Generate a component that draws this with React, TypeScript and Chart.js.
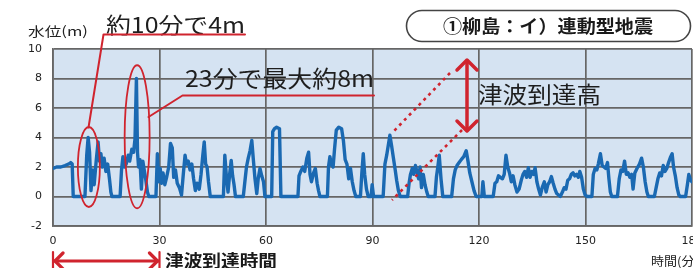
import React, { useEffect, useRef } from "react";
import { Chart, registerables } from "chart.js";

Chart.register(...registerables);

// ---- data (minutes after the earthquake, water level in m) ----
const minutes: number[] = [
  0, 1, 2.2, 3.4, 4.4, 5.0, 5.4, 5.7,
  9.0, 9.5, 9.9, 10.3, 10.7, 11.2, 11.6, 12.2, 12.7, 13.1, 13.5, 13.9, 14.4, 14.9, 15.4, 15.9, 16.3, 16.6,
  18.9, 19.3, 19.7, 20.1, 20.6, 21.2, 21.6, 22.2, 22.7, 23.1, 23.5, 23.8, 24.1, 24.5, 24.9, 25.3, 25.7, 26.1, 26.6, 27.0,
  29.0, 29.4, 29.8, 30.2, 30.6, 31.0, 31.5, 32.0, 32.6, 33.1, 33.6, 34.0, 34.5, 35.0, 35.6, 36.2, 36.7, 37.2, 37.6, 38.1, 38.6, 39.1, 39.6, 40.1, 40.6, 41.2, 41.7, 42.2, 42.6, 43.0, 43.4, 43.8, 44.3,
  48.0, 48.4, 48.9, 49.3, 49.8, 50.2, 50.6, 51.0, 51.4,
  53.6, 54.0, 54.5, 55.0, 55.5, 56.0, 56.4, 56.9, 57.4, 57.8, 58.3, 58.8, 59.3, 59.7,
  61.6, 61.9, 62.4, 63.0, 63.8, 64.2,
  69.0, 69.3, 69.8, 70.4, 70.9, 71.5, 72.0, 72.4, 72.8, 73.4, 73.9, 74.4, 74.8, 75.2,
  77.3, 77.6, 78.0, 78.4, 78.9, 79.3, 79.8, 80.5, 81.3, 81.8, 82.3, 82.8, 83.3, 83.8, 84.3, 84.8, 85.3,
  86.6, 87.0, 87.4, 87.8, 88.3, 88.8, 89.6, 89.9, 90.3,
  93.0, 93.5, 94.0, 94.9, 95.4, 95.9, 96.4, 96.8, 97.3, 97.8,
  99.9, 100.3, 100.7, 101.2, 101.6, 102.1, 102.6, 103.0, 103.4, 103.8, 104.3, 104.8, 105.3, 105.7,
  107.6, 108.0, 108.4, 108.8, 109.3, 109.8,
  112.3, 112.8, 113.3, 113.8, 114.4, 115.0, 115.7, 116.4, 116.9, 117.4, 118.0, 118.6, 119.2,
  120.8, 121.1, 121.5, 124.0, 124.5, 125.0, 125.5, 126.0, 126.6, 127.1, 127.6, 128.1, 128.6, 129.1, 129.6, 130.1, 130.7,
  131.3, 131.9, 132.4, 132.9, 133.4, 133.9, 134.4, 134.9, 135.4, 135.8, 136.3, 136.8, 137.3, 137.8, 138.4, 138.9, 139.4,
  139.9, 140.4, 140.9, 141.4, 141.9, 142.4, 142.9, 143.5, 144.0, 144.5, 145.0, 145.5, 146.0, 146.5, 147.0, 147.5, 148.0,
  148.4, 148.9, 149.4, 149.9, 150.5,
  151.8, 152.2, 152.7, 153.2, 153.6, 154.2, 154.7, 155.2, 155.7, 156.2, 156.6, 157.0, 157.4,
  159.0, 159.5, 160.0, 160.5, 161.0, 161.5, 162.0, 162.5, 163.0, 163.4, 163.9, 164.5, 165.2, 165.8, 166.3, 166.8, 167.3, 167.7,
  169.4, 169.9, 170.4, 170.9, 171.4, 171.9, 172.4, 172.9, 173.4, 174.0, 174.4, 174.8, 175.3, 175.8, 176.3, 176.7,
  178.2, 178.7, 179.1, 179.6, 180,
];

const waterLevel: number[] = [
  1.9, 2.0, 2.0, 2.1, 2.2, 2.3, 2.2, 0,
  0, 2.8, 4.0, 3.0, 0.4, 1.8, 0.8, 2.5, 3.7, 2.4, 2.9, 2.0, 2.6, 1.7, 2.2, 1.2, 0.3, 0,
  0, 1.8, 2.7, 2.0, 2.2, 2.8, 2.4, 3.2, 3.0, 3.9, 8.0, 3.0, 2.0, 2.5, 0.5, 2.4, 1.8, 1.2, 0.3, 0,
  0, 2.9, 1.0, 1.9, 0.9, 1.6, 0.8, 1.3, 2.0, 3.6, 3.3, 1.3, 1.8, 0.9, 0.6, 0.1, 1.5, 2.8, 2.2, 2.4, 1.8, 2.2, 1.2, 0.4, 0.9, 0.5, 1.5, 2.8, 3.7, 2.2, 2.0, 1.0, 0,
  0, 2.8, 1.2, 0.3, 1.6, 2.45, 1.4, 0.8, 0,
  0, 0.9, 2.0, 2.6, 3.1, 3.8, 2.6, 1.2, 0.2, 1.2, 1.9, 1.4, 1.0, 0,
  0, 4.4, 4.6, 4.7, 4.6, 0,
  0, 1.4, 1.7, 2.0, 1.7, 2.6, 3.0, 1.5, 1.0, 1.6, 1.9, 0.9, 0.4, 0,
  0, 2.0, 2.7, 2.2, 2.0, 3.2, 4.5, 4.7, 4.6, 3.8, 2.5, 2.2, 1.2, 1.9, 1.0, 0.4, 0,
  0, 1.6, 2.9, 1.5, 0.5, 0, 0, 0.8, 0,
  0, 2.2, 2.8, 4.15, 3.4, 2.6, 1.8, 1.1, 0.4, 0,
  0, 0.9, 1.5, 1.9, 1.5, 2.1, 1.6, 1.2, 2.0, 0.6, 1.5, 0.8, 0.3, 0,
  0, 1.3, 2.0, 2.8, 1.2, 0,
  0, 1.2, 1.8, 2.1, 2.3, 2.5, 2.7, 3.1, 2.4, 1.6, 1.0, 0.4, 0,
  0, 1.0, 0, 0, 0.9, 1.0, 1.4, 1.3, 1.2, 1.5, 2.8, 2.0, 1.6, 1.0, 1.4, 0.8, 0.3,
  0.5, 1.1, 1.5, 1.7, 1.3, 1.95, 1.3, 1.7, 1.5, 1.95, 1.0, 0.5, 0.1, 0.6, 1.0, 0.3, 0.8,
  1.0, 1.35, 0.9, 0.5, 0.2, 0.1, 0, 0.3, 0.6, 0.5, 1.1, 1.2, 1.5, 1.6, 1.4, 1.5, 1.3,
  1.7, 1.3, 0.5, 0.1, 0,
  0, 1.5, 1.9, 1.8, 2.2, 2.9, 2.1, 2.0, 1.9, 2.3, 1.2, 0.3, 0,
  0, 1.2, 1.8, 1.7, 2.4, 1.5, 1.6, 1.3, 1.5, 0.5, 1.6, 1.9, 2.2, 2.6, 2.0, 1.0, 0.3, 0,
  0, 0.6, 1.2, 1.6, 1.4, 2.1, 1.7, 1.9, 2.3, 2.7, 2.9, 2.0, 1.4, 0.6, 0.1, 0,
  0, 0.8, 1.5, 1.1, 1.0,
];

const xTickValues: number[] = [0, 30, 60, 90, 120, 150, 180];
const yTickValues: number[] = [-2, 0, 2, 4, 6, 8, 10];

const titleText = "①柳島：イ）連動型地震";
const yAxisTitle = "水位(m)";
const xAxisTitle = "時間(分)";
const note10min = "約10分で4m";
const note23min = "23分で最大約8m";
const heightLabel = "津波到達高";
const timeLabel = "津波到達時間";

const PLOT_BG = "#d5e3f2";
const GRID = "#666666";
const LINE = "#1a69b2";
const RED = "#d0242e";
const CJK = '"Noto Sans CJK JP", "Noto Sans", sans-serif';

function fitText(
  ctx: CanvasRenderingContext2D,
  text: string,
  x: number,
  y: number,
  font: string,
  width: number,
  color: string
) {
  ctx.save();
  ctx.font = font;
  ctx.fillStyle = color;
  ctx.textAlign = "left";
  ctx.textBaseline = "middle";
  const w = ctx.measureText(text).width;
  const sx = width / w;
  ctx.translate(x, y);
  ctx.scale(sx, 1);
  ctx.fillText(text, 0, 0);
  ctx.restore();
}

function line(ctx: CanvasRenderingContext2D, pts: number[][], color: string, width: number, dash: number[] = []) {
  ctx.save();
  ctx.strokeStyle = color;
  ctx.lineWidth = width;
  ctx.setLineDash(dash);
  ctx.lineJoin = "round";
  ctx.lineCap = dash.length ? "butt" : "round";
  ctx.beginPath();
  pts.forEach((p, i) => (i === 0 ? ctx.moveTo(p[0], p[1]) : ctx.lineTo(p[0], p[1])));
  ctx.stroke();
  ctx.restore();
}

const decorations = {
  id: "decorations",
  beforeDraw(chart: any) {
    const { ctx, chartArea: a } = chart;
    ctx.save();
    ctx.fillStyle = "#ffffff";
    ctx.fillRect(0, 0, chart.width, chart.height);
    ctx.fillStyle = PLOT_BG;
    ctx.fillRect(a.left, a.top, a.right - a.left, a.bottom - a.top);
    ctx.restore();
  },
  afterDraw(chart: any) {
    const ctx: CanvasRenderingContext2D = chart.ctx;
    const xs = chart.scales.x;
    const ys = chart.scales.y;
    const X = (v: number) => xs.getPixelForValue(v);
    const Y = (v: number) => ys.getPixelForValue(v);

    // axis title
    fitText(ctx, yAxisTitle, 28, 31, `13px ${CJK}`, 60, "#222");

    // title box
    ctx.save();
    ctx.strokeStyle = "#444";
    ctx.lineWidth = 1.6;
    ctx.beginPath();
    (ctx as any).roundRect(406.5, 10.5, 284, 31, 15.5);
    ctx.stroke();
    ctx.restore();
    fitText(ctx, titleText, 443, 26, `bold 18px ${CJK}`, 210, "#1a1a1a");

    // note: about 10 minutes 4m
    fitText(ctx, note10min, 106, 24.5, `22px ${CJK}`, 139, "#1e1e1e");
    line(ctx, [[245, 34.5], [103.5, 34.5], [88.5, 127.5]], RED, 2);
    ctx.save();
    ctx.strokeStyle = RED;
    ctx.lineWidth = 1.8;
    ctx.beginPath();
    ctx.ellipse(X(10.1), Y(2.0), 11, 40, 0, 0, Math.PI * 2);
    ctx.stroke();
    ctx.beginPath();
    ctx.ellipse(X(23.7), Y(4.05), 12.5, 71.5, 0, 0, Math.PI * 2);
    ctx.stroke();
    ctx.restore();

    // note: 23 minutes, max 8m
    fitText(ctx, note23min, 185, 78, `23px ${CJK}`, 189, "#1e1e1e");
    line(ctx, [[148.5, 117], [182.5, 95.5], [374, 95.5]], RED, 2);

    // tsunami height arrow + dotted guides
    line(ctx, [[450, 73], [393, 132]], RED, 2.6, [3, 4]);
    line(ctx, [[462, 130], [392, 200]], RED, 2.6, [3, 4]);
    line(ctx, [[467, 61], [467, 130]], RED, 3.5);
    line(ctx, [[457, 70], [467, 60], [477, 70]], RED, 3.5);
    line(ctx, [[457, 121], [467, 131], [477, 121]], RED, 3.5);
    fitText(ctx, heightLabel, 478, 94, `23px ${CJK}`, 123, "#1e1e1e");

    // tsunami arrival time arrow
    const x0 = X(0);
    const x30 = X(30);
    const ya = 261;
    line(ctx, [[x0 + 1, ya], [x30 - 1, ya]], RED, 3.2);
    line(ctx, [[x0 + 10, ya - 8], [x0 + 2, ya], [x0 + 10, ya + 8]], RED, 3.2);
    line(ctx, [[x30 - 10, ya - 8], [x30 - 2, ya], [x30 - 10, ya + 8]], RED, 3.2);
    line(ctx, [[x0, 252], [x0, 270]], RED, 2.2);
    line(ctx, [[x30, 252], [x30, 270]], RED, 2.2);
    fitText(ctx, timeLabel, 165, 261, `bold 17px ${CJK}`, 112, "#1a1a1a");

    // x axis title (cut at right edge)
    fitText(ctx, xAxisTitle, 651, 261, `12px ${CJK}`, 48, "#222");
  },
};

export default function App() {
  const ref = useRef<HTMLCanvasElement | null>(null);

  useEffect(() => {
    if (!ref.current) return;
    document.body.style.margin = "0";
    document.body.style.overflow = "hidden";
    const points = minutes.map((t, i) => ({ x: t, y: waterLevel[i] }));
    const chart = new Chart(ref.current, {
      type: "line",
      data: {
        datasets: [
          {
            data: points,
            borderColor: LINE,
            borderWidth: 3.4,
            pointRadius: 0,
            tension: 0,
            fill: false,
            borderJoinStyle: "round",
            borderCapStyle: "round",
          },
        ],
      },
      options: {
        animation: false,
        responsive: false,
        maintainAspectRatio: false,
        devicePixelRatio: 1,
        layout: { padding: { left: 0, right: 28, top: 49, bottom: 0 } },
        plugins: { legend: { display: false }, tooltip: { enabled: false } },
        scales: {
          x: {
            type: "linear",
            min: 0,
            max: 180,
            afterBuildTicks: (s: any) => {
              s.ticks = xTickValues.map((v) => ({ value: v }));
            },
            grid: { color: GRID, lineWidth: 1.7, drawTicks: false },
            border: { color: GRID, width: 1.7 },
            ticks: {
              padding: 9,
              color: "#222",
              maxRotation: 0,
              autoSkip: false,
              font: { family: "DejaVu Sans", size: 11 },
            },
            afterFit: (s: any) => {
              s.height = 42;
            },
          },
          y: {
            type: "linear",
            min: -2,
            max: 10,
            afterBuildTicks: (s: any) => {
              s.ticks = yTickValues.map((v) => ({ value: v }));
            },
            grid: { color: GRID, lineWidth: 1.7, drawTicks: false },
            border: { color: GRID, width: 1.7 },
            ticks: {
              padding: 11,
              color: "#222",
              autoSkip: false,
              font: { family: "DejaVu Sans", size: 11 },
            },
            afterFit: (s: any) => {
              s.width = 53;
            },
          },
        },
      },
      plugins: [decorations],
    });
    return () => chart.destroy();
  }, []);

  return (
    <div style={{ position: "fixed", left: 0, top: 0, width: 693, height: 268, overflow: "hidden", background: "#fff" }}>
      <canvas ref={ref} width={720} height={268} style={{ display: "block", width: 720, height: 268 }} />
    </div>
  );
}
